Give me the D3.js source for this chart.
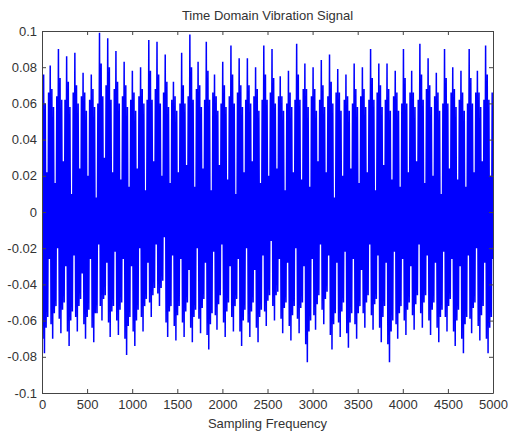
<!DOCTYPE html>
<html>
<head>
<meta charset="utf-8">
<script src="https://cdn.jsdelivr.net/npm/d3@7"></script>
<style>
  html, body { margin: 0; padding: 0; background: #ffffff; }
  svg { display: block; }
  text { font-family: "Liberation Sans", Arial, Helvetica, sans-serif; fill: #333; }
</style>
</head>
<body>
<svg id="chart" width="508" height="433"></svg>
<script>
// Vibration signal, decimated, amplitudes in thousandths (x 1e-3).
// Each row covers roughly one impact cycle of the signal.
const signalMilli = [
  92,-70,76,-78,60,-64,22,-58,66,-26,
  81,-62,68,-70,58,-56,16,-52,64,-20,
  90,-59,74,-67,62,-54,28,-50,62,-30,
  86,-66,72,-74,58,-60,10,-55,66,-24,
  88,-58,70,-66,60,-52,24,-48,64,-34,
  77,-62,66,-70,56,-58,20,-54,62,-26,
  76,-64,68,-72,58,-56,8,-56,60,-18,
  99,-52,82,-60,64,-48,30,-46,70,-28,
  96,-61,80,-69,62,-55,22,-52,68,-22,
  89,-60,72,-68,60,-54,18,-50,64,-26,
  83,-70,70,-79,58,-63,14,-58,62,-30,
  78,-66,66,-74,56,-60,24,-54,64,-20,
  80,-58,68,-66,60,-52,12,-48,62,-28,
  95,-50,78,-58,62,-46,28,-42,68,-18,
  94,-45,76,-52,60,-42,20,-38,66,-14,
  87,-61,72,-69,58,-55,16,-52,62,-24,
  72,-63,64,-71,56,-57,22,-52,60,-26,
  88,-61,70,-69,60,-55,26,-50,64,-32,
  98,-64,80,-72,62,-58,14,-54,68,-20,
  83,-59,70,-67,58,-53,24,-48,62,-28,
  94,-68,78,-76,62,-62,12,-56,66,-22,
  76,-57,64,-65,56,-51,26,-46,60,-18,
  83,-61,70,-69,58,-55,18,-50,64,-30,
  92,-58,76,-66,60,-52,10,-48,66,-26,
  85,-66,70,-74,58,-60,22,-54,62,-20,
  85,-61,70,-69,60,-55,28,-50,64,-32,
  80,-64,68,-72,56,-58,16,-54,62,-24,
  92,-55,76,-63,62,-49,20,-46,66,-16,
  90,-52,74,-60,60,-46,24,-44,64,-26,
  75,-59,64,-67,56,-53,12,-50,60,-28,
  78,-63,66,-71,58,-57,22,-52,62,-20,
  93,-59,76,-67,62,-53,18,-50,68,-30,
  82,-73,68,-83,58,-66,14,-60,64,-26,
  80,-57,68,-65,56,-51,28,-46,62,-18,
  84,-54,70,-62,58,-48,22,-44,64,-24,
  87,-68,72,-76,60,-62,8,-56,66,-28,
  79,-61,66,-69,56,-55,20,-50,62,-22,
  76,-67,64,-75,56,-61,24,-56,60,-26,
  82,-62,68,-70,58,-56,16,-52,64,-32,
  80,-56,68,-64,58,-50,22,-46,62,-18,
  90,-57,74,-65,62,-51,12,-48,66,-24,
  82,-64,70,-72,58,-58,26,-52,62,-28,
  82,-73,68,-83,56,-66,18,-60,64,-22,
  78,-62,66,-70,56,-56,14,-52,60,-26,
  90,-60,74,-68,60,-54,22,-50,66,-30,
  78,-57,66,-65,58,-51,28,-46,62,-18,
  93,-56,76,-64,62,-50,16,-46,68,-24,
  85,-60,70,-68,58,-54,20,-50,64,-28,
  77,-64,66,-72,56,-58,10,-54,60,-22,
  90,-58,74,-66,60,-52,24,-48,66,-26,
  80,-66,68,-74,58,-60,18,-54,62,-30,
  78,-70,66,-78,56,-62,14,-58,60,-24,
  90,-59,74,-67,60,-53,22,-50,66,-20,
  78,-63,66,-71,58,-57,28,-52,62,-28,
  92,-70,76,-78,62,-64,20,-58,66,-26
];

const xTicks = [0, 500, 1000, 1500, 2000, 2500, 3000, 3500, 4000, 4500, 5000];
const yTicks = [0.1, 0.08, 0.06, 0.04, 0.02, 0, -0.02, -0.04, -0.06, -0.08, -0.1];
const yTickLabels = ["0.1", "0.08", "0.06", "0.04", "0.02", "0", "-0.02", "-0.04", "-0.06", "-0.08", "-0.1"];
const titleText = "Time Domain Vibration Signal";
const xLabelText = "Sampling Frequency";

const svg = d3.select("#chart");
const plot = { left: 42, right: 493, top: 31, bottom: 393 };

const x = d3.scaleLinear().domain([0, 5000]).range([plot.left, plot.right]);
const y = d3.scaleLinear().domain([-0.1, 0.1]).range([plot.bottom, plot.top]);

const n = signalMilli.length;
const step = 5000 / (n - 1);
const points = signalMilli.map((v, i) => [i * step, v / 1000]);

svg.append("defs").append("clipPath").attr("id", "plotClip")
  .append("rect")
  .attr("x", plot.left).attr("y", plot.top)
  .attr("width", plot.right - plot.left).attr("height", plot.bottom - plot.top);

// signal trace
svg.append("path")
  .datum(points)
  .attr("clip-path", "url(#plotClip)")
  .attr("fill", "none")
  .attr("stroke", "#0000ff")
  .attr("stroke-width", 1.5)
  .attr("stroke-linejoin", "bevel")
  .attr("d", d3.line().x(d => x(d[0])).y(d => y(d[1])));

// axes, MATLAB style: ticks inward on all four sides
const tickLen = 4;
const axisColor = "#444";

const bottomAxis = d3.axisBottom(x).tickValues(xTicks).tickSize(-tickLen).tickSizeOuter(0)
  .tickPadding(7).tickFormat(d3.format("d"));
const topAxis = d3.axisTop(x).tickValues(xTicks).tickSize(-tickLen).tickSizeOuter(0).tickFormat("");
const leftAxis = d3.axisLeft(y).tickValues(yTicks).tickSize(-tickLen).tickSizeOuter(0).tickPadding(5)
  .tickFormat((d, i) => yTickLabels[i]);
const rightAxis = d3.axisRight(y).tickValues(yTicks).tickSize(-tickLen).tickSizeOuter(0).tickFormat("");

function styleAxis(g) {
  g.select(".domain").attr("stroke", axisColor).attr("stroke-width", 1);
  g.selectAll(".tick line").attr("stroke", axisColor);
  g.selectAll(".tick text").attr("fill", "#333").style("font-size", "13px")
    .style("font-family", "'Liberation Sans', Arial, sans-serif");
}

svg.append("g").attr("transform", `translate(0,${plot.bottom})`).call(bottomAxis).call(styleAxis);
svg.append("g").attr("transform", `translate(0,${plot.top})`).call(topAxis).call(styleAxis);
svg.append("g").attr("transform", `translate(${plot.left},0)`).call(leftAxis).call(styleAxis);
svg.append("g").attr("transform", `translate(${plot.right},0)`).call(rightAxis).call(styleAxis);

svg.append("text")
  .attr("x", (plot.left + plot.right) / 2).attr("y", 20)
  .attr("text-anchor", "middle")
  .style("font-size", "13px")
  .text(titleText);

svg.append("text")
  .attr("x", (plot.left + plot.right) / 2).attr("y", 428)
  .attr("text-anchor", "middle")
  .style("font-size", "13px")
  .text(xLabelText);
</script>
</body>
</html>
